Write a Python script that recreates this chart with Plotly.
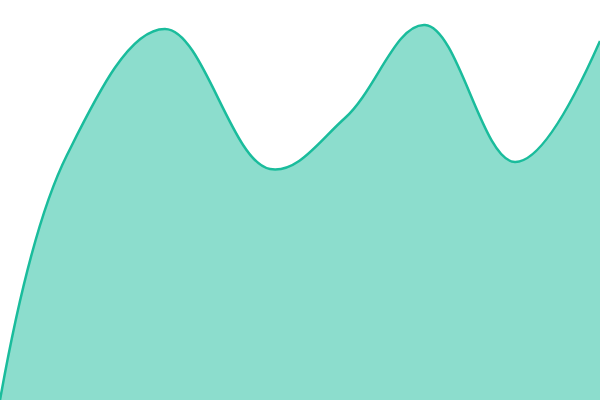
import plotly.graph_objects as go

# values at these x positions (0-600 wide, 0-400 tall)
x_vals = [0, 67, 165, 270, 345, 425, 515, 600]
y_vals = [0, 245, 371, 231, 282, 375, 238, 359]

line_color = '#1abc9c'

fig = go.Figure(go.Scatter(
    x=x_vals,
    y=y_vals,
    mode='lines',
    line=dict(color=line_color, width=2.5, shape='spline', smoothing=1.1),
    fill='tozeroy',
    fillcolor='rgba(26,188,156,0.5)',
    hoverinfo='skip',
))

fig.update_layout(
    width=600,
    height=400,
    margin=dict(l=0, r=0, t=0, b=0),
    paper_bgcolor='white',
    plot_bgcolor='white',
    showlegend=False,
    xaxis=dict(visible=False, range=[0, 600], fixedrange=True),
    yaxis=dict(visible=False, range=[0, 400], fixedrange=True),
)

# the page body has a default 8px margin, drop it
fig.write_html("out.html", config={'displayModeBar': False},
               post_script="document.body.style.margin='0';")
